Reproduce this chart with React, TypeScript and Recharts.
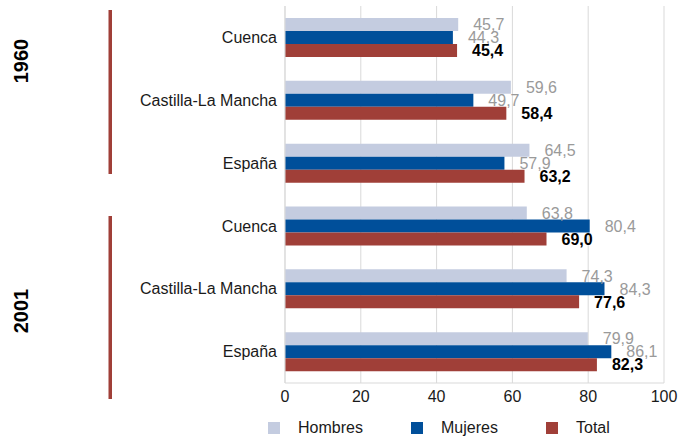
import React from 'react';
import { BarChart, Bar, XAxis, YAxis, CartesianGrid, Legend, LabelList } from 'recharts';

const categories = ['Cuenca', 'Castilla-La Mancha', 'España', 'Cuenca', 'Castilla-La Mancha', 'España'];
const hombres = [45.7, 59.6, 64.5, 63.8, 74.3, 79.9];
const mujeres = [44.3, 49.7, 57.9, 80.4, 84.3, 86.1];
const total = [45.4, 58.4, 63.2, 69.0, 77.6, 82.3];
const xTicks = [0, 20, 40, 60, 80, 100];
const years = ['1960', '2001'];

const data = categories.map((name, i) => ({
  name,
  hombres: hombres[i],
  mujeres: mujeres[i],
  total: total[i],
}));

const FONT = '"Liberation Sans", Arial, sans-serif';
const GRID = '#d9d9d9';
const COLORS = { hombres: '#c4cce0', mujeres: '#004f9a', total: '#a03f38' };

const fmt = (v: number) => v.toFixed(1).replace('.', ',');

const legendItems = [
  { label: 'Hombres', color: COLORS.hombres, width: 143 },
  { label: 'Mujeres', color: COLORS.mujeres, width: 135 },
  { label: 'Total', color: COLORS.total, width: 80 },
];

function LegendContent() {
  return (
    <div style={{ display: 'flex', height: 16, fontFamily: FONT, fontSize: 16, color: '#1a1a1a' }}>
      {legendItems.map((it) => (
        <div key={it.label} style={{ display: 'flex', alignItems: 'center', width: it.width }}>
          <span style={{ width: 12, height: 12, background: it.color, marginRight: 18, display: 'inline-block' }} />
          <span style={{ lineHeight: '16px' }}>{it.label}</span>
        </div>
      ))}
    </div>
  );
}

// group markers at the left (year labels + red bars)
const groupMarks = [
  { year: years[0], cy: 61, lineTop: 10, lineBottom: 174 },
  { year: years[1], cy: 311, lineTop: 216, lineBottom: 399 },
];

export default function App() {
  return (
    <div style={{ position: 'absolute', left: 0, top: 0, width: 680, height: 436, fontFamily: FONT }}>
      <BarChart
        width={680}
        height={436}
        data={data}
        layout="vertical"
        margin={{ top: 6, right: 16, bottom: 0, left: 0 }}
        barSize={13}
        barGap={0}
      >
        <CartesianGrid horizontal={false} stroke={GRID} />
        <XAxis
          type="number"
          domain={[0, 100]}
          ticks={xTicks}
          tickLine={false}
          axisLine={{ stroke: GRID }}
          height={37}
          tick={{ fontSize: 16, fill: '#1a1a1a', fontFamily: FONT }}
        />
        <YAxis
          type="category"
          dataKey="name"
          width={285}
          tickLine={false}
          axisLine={{ stroke: GRID }}
          interval={0}
          tick={{ fontSize: 16, fill: '#1a1a1a', fontFamily: FONT }}
        />
        <Legend
          verticalAlign="bottom"
          align="left"
          content={<LegendContent />}
          wrapperStyle={{ left: 268, width: 'auto' }}
        />
        <Bar dataKey="hombres" name="Hombres" fill={COLORS.hombres} isAnimationActive={false}>
          <LabelList dataKey="hombres" position="right" offset={15} formatter={fmt} fill="#9a9a9a" fontSize={16} fontFamily={FONT} />
        </Bar>
        <Bar dataKey="mujeres" name="Mujeres" fill={COLORS.mujeres} isAnimationActive={false}>
          <LabelList dataKey="mujeres" position="right" offset={15} formatter={fmt} fill="#9a9a9a" fontSize={16} fontFamily={FONT} />
        </Bar>
        <Bar dataKey="total" name="Total" fill={COLORS.total} isAnimationActive={false}>
          <LabelList dataKey="total" position="right" offset={15} formatter={fmt} fill="#000" fontSize={16} fontWeight="bold" fontFamily={FONT} />
        </Bar>
      </BarChart>
      <svg width={130} height={436} style={{ position: 'absolute', left: 0, top: 0, pointerEvents: 'none' }}>
        {groupMarks.map((g) => (
          <g key={g.year}>
            <text
              x={21}
              y={g.cy}
              transform={`rotate(-90 21 ${g.cy})`}
              textAnchor="middle"
              dominantBaseline="central"
              fontSize={20}
              fontWeight="bold"
              fill="#000"
              fontFamily={FONT}
            >
              {g.year}
            </text>
            <rect x={108.5} y={g.lineTop} width={3.5} height={g.lineBottom - g.lineTop} fill={COLORS.total} />
          </g>
        ))}
      </svg>
    </div>
  );
}
